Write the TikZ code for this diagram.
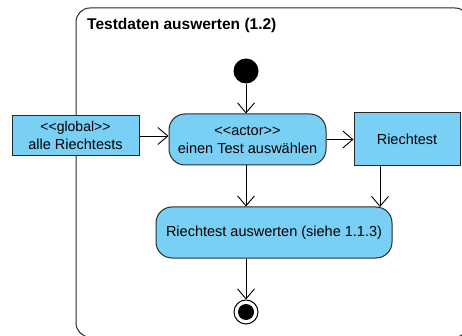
\documentclass[tikz,border=0pt]{standalone}
\usepackage{fontspec}
\setmainfont{Liberation Sans}[Ligatures=TeXOff]
\usetikzlibrary{arrows.meta}
\definecolor{actfill}{RGB}{122,207,245}
\definecolor{lineclr}{RGB}{40,40,40}
\tikzset{
  px/.style={x=1pt,y=-1pt},
  action/.style={draw=lineclr, line width=1pt, fill=actfill, rounded corners=16pt, inner sep=0pt, font=\fontsize{14.5}{18}\selectfont, align=center},
  objbox/.style={draw=lineclr, line width=1pt, fill=actfill, inner sep=0pt, font=\fontsize{14.5}{18}\selectfont, align=center},
  flow/.style={draw=black, line width=0.9pt, -{Straight Barb[length=10pt,width=17pt,line width=0.9pt]}},
}
\begin{document}
\begin{tikzpicture}[px]
\useasboundingbox (0,0) rectangle (462,336);
\begin{scope}
\clip (0,0) rectangle (462,336);
\draw[lineclr, line width=1pt, rounded corners=14pt] (76,8) rectangle (469,337);
\end{scope}
\node[anchor=west, inner sep=0pt, font=\bfseries\fontsize{15.5}{18}\selectfont] (title) at (87,25) {Testdaten auswerten (1.2)};

\node[circle, fill=black, minimum size=25pt, inner sep=0pt] (init) at (246,71) {};
\node[objbox, minimum width=127pt, minimum height=40pt] (glob) at (75.5,136) {\fontsize{14}{19}\selectfont <<global>>\\alle Riechtests};
\node[action, minimum width=157pt, minimum height=51pt] (sel) at (247.5,139.5) {<<actor>>\\einen Test auswählen};
\node[objbox, minimum width=106pt, minimum height=53pt] (rt) at (407,139.5) {Riechtest};
\node[action, minimum width=236pt, minimum height=51pt] (eval) at (274,232.5) {Riechtest auswerten (siehe 1.1.3)};
\node[circle, draw=black, line width=1pt, fill=white, minimum size=24pt, inner sep=0pt] (fin) at (246,312) {};
\node[circle, fill=black, minimum size=16pt, inner sep=0pt] at (fin) {};

\coordinate (rtb) at (380,166);
\coordinate (evt) at (380,207);
\draw[flow] (init) -- (sel.north -| init);
\draw[flow] (glob.east) -- (sel.west |- glob.east);
\draw[flow] (sel.east) -- (rt.west |- sel.east);
\draw[flow] (sel.south -| init) -- (eval.north -| init);
\draw[flow] (rt.south -| rtb) -- (evt);
\draw[flow] (eval.south -| init) -- (fin.north);
\end{tikzpicture}
\end{document}
